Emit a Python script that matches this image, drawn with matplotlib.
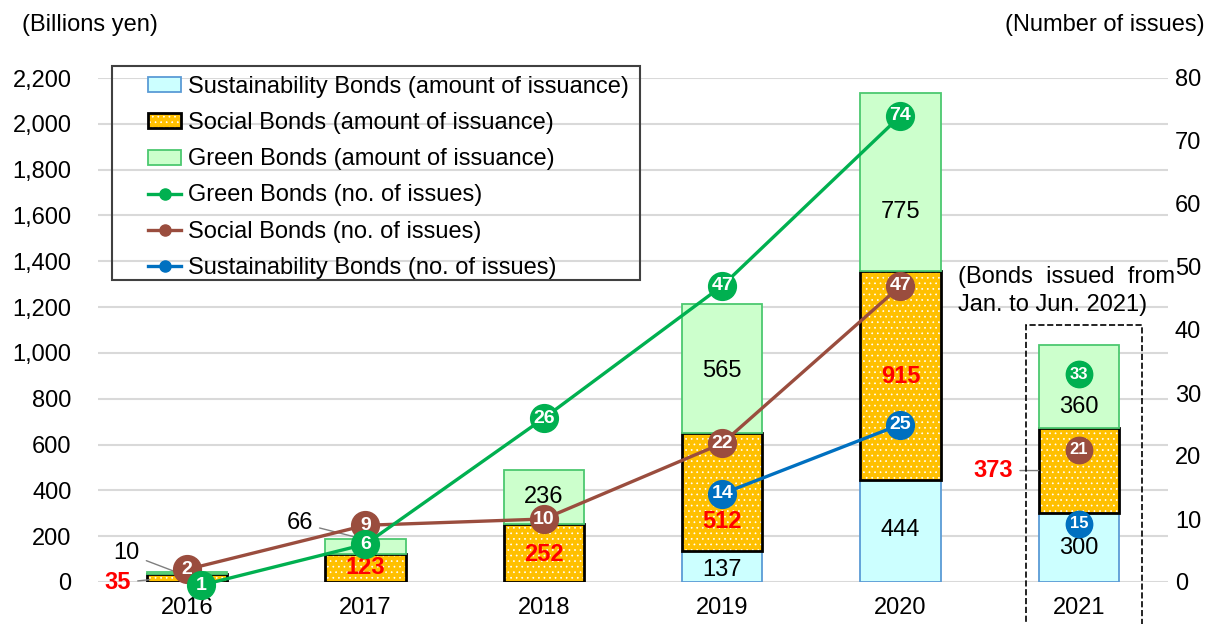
import numpy as np
import matplotlib.pyplot as plt
from matplotlib.patches import Rectangle, Patch
from matplotlib.lines import Line2D

plt.rcParams['font.family'] = ['Liberation Sans', 'DejaVu Sans']
plt.rcParams['hatch.linewidth'] = 0.5
plt.rcParams['hatch.color'] = 'white'

# data
years = ['2016', '2017', '2018', '2019', '2020', '2021']
sus_amt = [0, 0, 0, 137, 444, 300]
soc_amt = [35, 123, 252, 512, 915, 373]
grn_amt = [10, 66, 236, 565, 775, 360]
grn_cnt = [1, 6, 26, 47, 74, 33]
soc_cnt = [2, 9, 10, 22, 47, 21]
sus_cnt = [np.nan, np.nan, np.nan, 14, 25, 15]

GREEN = '#00B050'
BROWN = '#9A4D3E'
BLUE = '#0070C0'
ORANGE = '#FFC000'
FS = 17

W, H = 1217, 624
fig = plt.figure(figsize=(W / 100, H / 100), dpi=100)
ax = fig.add_axes([98 / W, 1 - 582 / H, (1168 - 98) / W, (582 - 78) / H])

x = np.arange(len(years))
sus = np.array(sus_amt)
soc = np.array(soc_amt)
grn = np.array(grn_amt)
bw = 0.45

# stacked bars
m = sus > 0
ax.bar(x[m], sus[m], bw, color='#CCFFFF', edgecolor='#5B9BD5', lw=1.3, zorder=2)
ax.bar(x, soc, bw, bottom=sus, color=ORANGE, edgecolor='white', hatch='...', lw=0, zorder=2)
ax.bar(x, soc, bw, bottom=sus, fill=False, edgecolor='black', lw=2, zorder=2)
ax.bar(x, grn, bw, bottom=sus + soc, color='#CCFFCC', edgecolor='#4CC870', lw=1.3, zorder=2)

ax.set_xlim(-0.5, 5.5)
ax.set_ylim(0, 2200)
ax.set_yticks(np.arange(0, 2201, 200))
ax.set_yticklabels([f'{v:,}' for v in range(0, 2201, 200)])
ax.set_xticks(x)
ax.set_xticklabels(years)
ax.tick_params(axis='y', length=0, labelsize=FS, pad=19)
ax.tick_params(axis='x', length=0, labelsize=FS, pad=11)
ax.yaxis.grid(True, color='#D9D9D9', lw=1.5)
ax.set_axisbelow(True)
for s in ax.spines.values():
    s.set_visible(False)

# amount labels inside bars
def lab(xi, yi, t, red=False):
    ax.text(xi, yi, t, ha='center', va='center', fontsize=FS,
            color='#FF0000' if red else 'black',
            fontweight='bold' if red else 'normal', zorder=5)

lab(2, sus[2] + soc[2] + grn[2] / 2, str(grn[2]))
lab(3, sus[3] + soc[3] + grn[3] / 2 - 10, str(grn[3]))
lab(4, sus[4] + soc[4] + grn[4] / 2 - 130, str(grn[4]))
lab(5, sus[5] + soc[5] + grn[5] / 2 - 90, str(grn[5]))
lab(1, sus[1] + soc[1] / 2, str(soc[1]), True)
lab(2, sus[2] + soc[2] / 2 - 4, str(soc[2]), True)
lab(3, sus[3] + soc[3] / 2 - 130, str(soc[3]), True)
lab(4, sus[4] + soc[4] / 2 - 6, str(soc[4]), True)
lab(3, sus[3] / 2 - 16, str(sus[3]))
lab(4, sus[4] / 2 + 5, str(sus[4]))
lab(5, sus[5] / 2, str(sus[5]))

# labels outside with leader lines
lp = dict(arrowstyle='-', color='#7F7F7F', lw=1, shrinkA=3, shrinkB=0)
ax.annotate(str(grn[0]), xy=(-0.06, soc[0] + 8), xytext=(-0.34, 126), ha='center', va='center',
            fontsize=FS, arrowprops=lp, annotation_clip=False)
ax.annotate(str(soc[0]), xy=(-0.21, 10), xytext=(-0.39, -4), ha='center', va='center',
            fontsize=FS, color='#FF0000', fontweight='bold', arrowprops=lp, annotation_clip=False)
ax.annotate(str(grn[1]), xy=(1.0, 185), xytext=(0.63, 258), ha='center', va='center',
            fontsize=FS, arrowprops=lp, annotation_clip=False)
ax.annotate(str(soc[5]), xy=(5 - bw / 2, sus[5] + soc[5] / 2), xytext=(4.52, sus[5] + soc[5] / 2),
            ha='center', va='center', fontsize=FS, color='#FF0000', fontweight='bold',
            arrowprops=lp, annotation_clip=False)

# counts on secondary axis
ax2 = ax.twinx()
ax2.set_ylim(0, 80)
ax2.set_yticks(np.arange(0, 81, 10))
ax2.tick_params(axis='y', length=0, labelsize=FS, pad=5)
for s in ax2.spines.values():
    s.set_visible(False)

ms = 20
ratio = 2200 / 80
xs = x.astype(float)

sus_pos = np.array(sus_cnt, dtype=float)
sus_pos[5] = (sus[5] - 45) / ratio  # marker sits inside the 2021 bar
grn_x = xs.copy()
grn_pos = np.array(grn_cnt, dtype=float)
grn_x[0] += 0.08  # 2016 marker nudged off the social marker
grn_pos[0] -= 1.5

series = [(sus_cnt, xs, sus_pos, BLUE), (soc_cnt, xs, np.array(soc_cnt, float), BROWN),
          (grn_cnt, grn_x, grn_pos, GREEN)]
for z, (vals, px, pos, c) in enumerate(series):
    ax2.plot(px[:5], pos[:5], color=c, lw=2.4, marker='o', ms=ms, mec=c, zorder=3 + z,
             clip_on=False)
    ax2.plot(px[5], pos[5], 'o', color=c, ms=ms - 1, zorder=3 + z)
    for i in range(6):
        if np.isnan(vals[i]):
            continue
        ax2.text(px[i], pos[i], str(int(vals[i])), ha='center', va='center', color='white',
                 fontsize=14 if i < 5 else 12, fontweight='bold', zorder=10)

# legend with its own frame
fig.add_artist(Rectangle((112 / W, 1 - 280 / H), (640 - 112) / W, (280 - 66) / H,
                         transform=fig.transFigure, fill=False, ec='#404040', lw=1.5))
soc_handle = (Patch(facecolor=ORANGE, edgecolor='white', lw=0, hatch='...'),
              Patch(fill=False, edgecolor='black', lw=2))
handles = [
    Patch(facecolor='#CCFFFF', edgecolor='#5B9BD5', lw=1.3),
    soc_handle,
    Patch(facecolor='#CCFFCC', edgecolor='#4CC870', lw=1.3),
    Line2D([], [], color=GREEN, lw=2.4, marker='o', ms=8),
    Line2D([], [], color=BROWN, lw=2.4, marker='o', ms=8),
    Line2D([], [], color=BLUE, lw=2.4, marker='o', ms=8),
]
labels = ['Sustainability Bonds (amount of issuance)', 'Social Bonds (amount of issuance)',
          'Green Bonds (amount of issuance)', 'Green Bonds (no. of issues)',
          'Social Bonds (no. of issues)', 'Sustainability Bonds (no. of issues)']
fig.legend(handles, labels, loc='upper left', bbox_to_anchor=(148 / W, 1 - 76 / H),
           frameon=False, fontsize=FS, handlelength=1.4, handleheight=0.6,
           handletextpad=0.3, labelspacing=0.6, borderpad=0, borderaxespad=0)

# titles and notes
fig.text(22 / W, 1 - 25 / H, '(Billions yen)', fontsize=FS, va='center')
fig.text(1205 / W, 1 - 25 / H, '(Number of issues)', fontsize=FS, va='center', ha='right')
fig.text(958 / W, 1 - 291 / H, '(Bonds  issued  from\nJan. to Jun. 2021)', fontsize=FS,
         va='center', ha='left', linespacing=1.35)
fig.add_artist(Rectangle((1026 / W, -0.05), (1142 - 1026) / W, 1 - 325 / H + 0.05,
                         transform=fig.transFigure, fill=False, ec='black', lw=1.2, ls='--'))

fig.savefig('out.png', dpi=100)
